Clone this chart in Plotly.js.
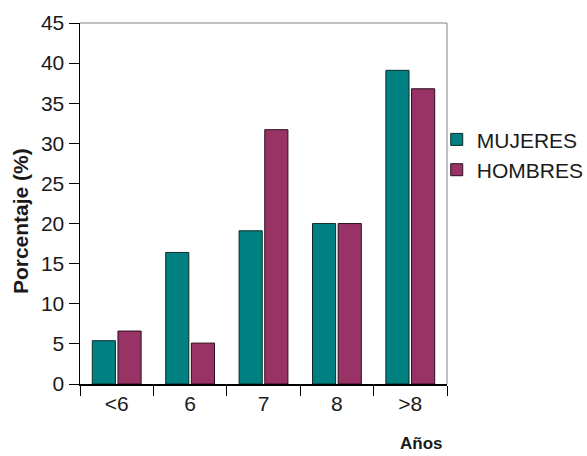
<!DOCTYPE html>
<html><head><meta charset="utf-8">
<script src="https://cdn.plot.ly/plotly-3.0.1.min.js"></script>
<style>body{margin:0;padding:0;background:#fff}#chart{width:587px;height:456px}</style>
</head><body><div id="chart"></div>
<script>
const categories = ['<6', '6', '7', '8', '>8'];
const mujeres = [5.4, 16.4, 19.1, 20.0, 39.1];
const hombres = [6.6, 5.1, 31.7, 20.0, 36.8];
const seriesNames = ['MUJERES', 'HOMBRES'];
const yTicks = [0, 5, 10, 15, 20, 25, 30, 35, 40, 45];

const font = {family: 'Liberation Sans, Arial, sans-serif', color: '#1a1a1a'};
const traces = [
  {type: 'bar', name: seriesNames[0], x: categories, y: mujeres,
   marker: {color: '#008080', line: {color: '#0d2b2b', width: 1}}},
  {type: 'bar', name: seriesNames[1], x: categories, y: hombres,
   marker: {color: '#993366', line: {color: '#2b0d1c', width: 1}}}
];
const layout = {
  width: 587, height: 456,
  margin: {l: 80, r: 140, t: 23, b: 72, autoexpand: false},
  paper_bgcolor: '#fff', plot_bgcolor: '#fff',
  barmode: 'group', bargap: 0.3, bargroupgap: 0.1,
  font: Object.assign({size: 21}, font),
  xaxis: {
    type: 'category', tickson: 'boundaries', ticks: 'outside', ticklen: 10,
    tickcolor: '#000', showline: true, linecolor: '#000', linewidth: 1.5,
    showgrid: false, zeroline: false, tickfont: {size: 21}, automargin: false
  },
  yaxis: {
    range: [0, 45], tickvals: yTicks, ticks: 'outside', ticklen: 10,
    tickcolor: '#000', showline: true, linecolor: '#000', linewidth: 1.5,
    showgrid: false, zeroline: false, tickfont: {size: 21}, automargin: false
  },
  shapes: [
    {type: 'line', xref: 'paper', yref: 'paper', x0: 0, x1: 1, y0: 1, y1: 1, line: {color: '#808080', width: 1}},
    {type: 'line', xref: 'paper', yref: 'paper', x0: 1, x1: 1, y0: 0, y1: 1, line: {color: '#808080', width: 1}}
  ],
  annotations: [
    {text: '<b>Porcentaje (%)</b>', xref: 'paper', yref: 'paper', x: -0.162, y: 0.45,
     xanchor: 'center', yanchor: 'middle', textangle: -90, showarrow: false, font: {size: 21}},
    {text: '<b>Años</b>', xref: 'paper', yref: 'paper', x: 0.93, y: -0.165,
     xanchor: 'center', yanchor: 'middle', showarrow: false, font: {size: 17}}
  ],
  legend: {x: 0.972, xanchor: 'left', y: 0.635, yanchor: 'middle', font: {size: 21},
           itemwidth: 30, tracegroupgap: 0, bgcolor: 'rgba(0,0,0,0)'},
  showlegend: true
};
Plotly.newPlot('chart', traces, layout, {displayModeBar: false, staticPlot: true});
</script></body></html>
